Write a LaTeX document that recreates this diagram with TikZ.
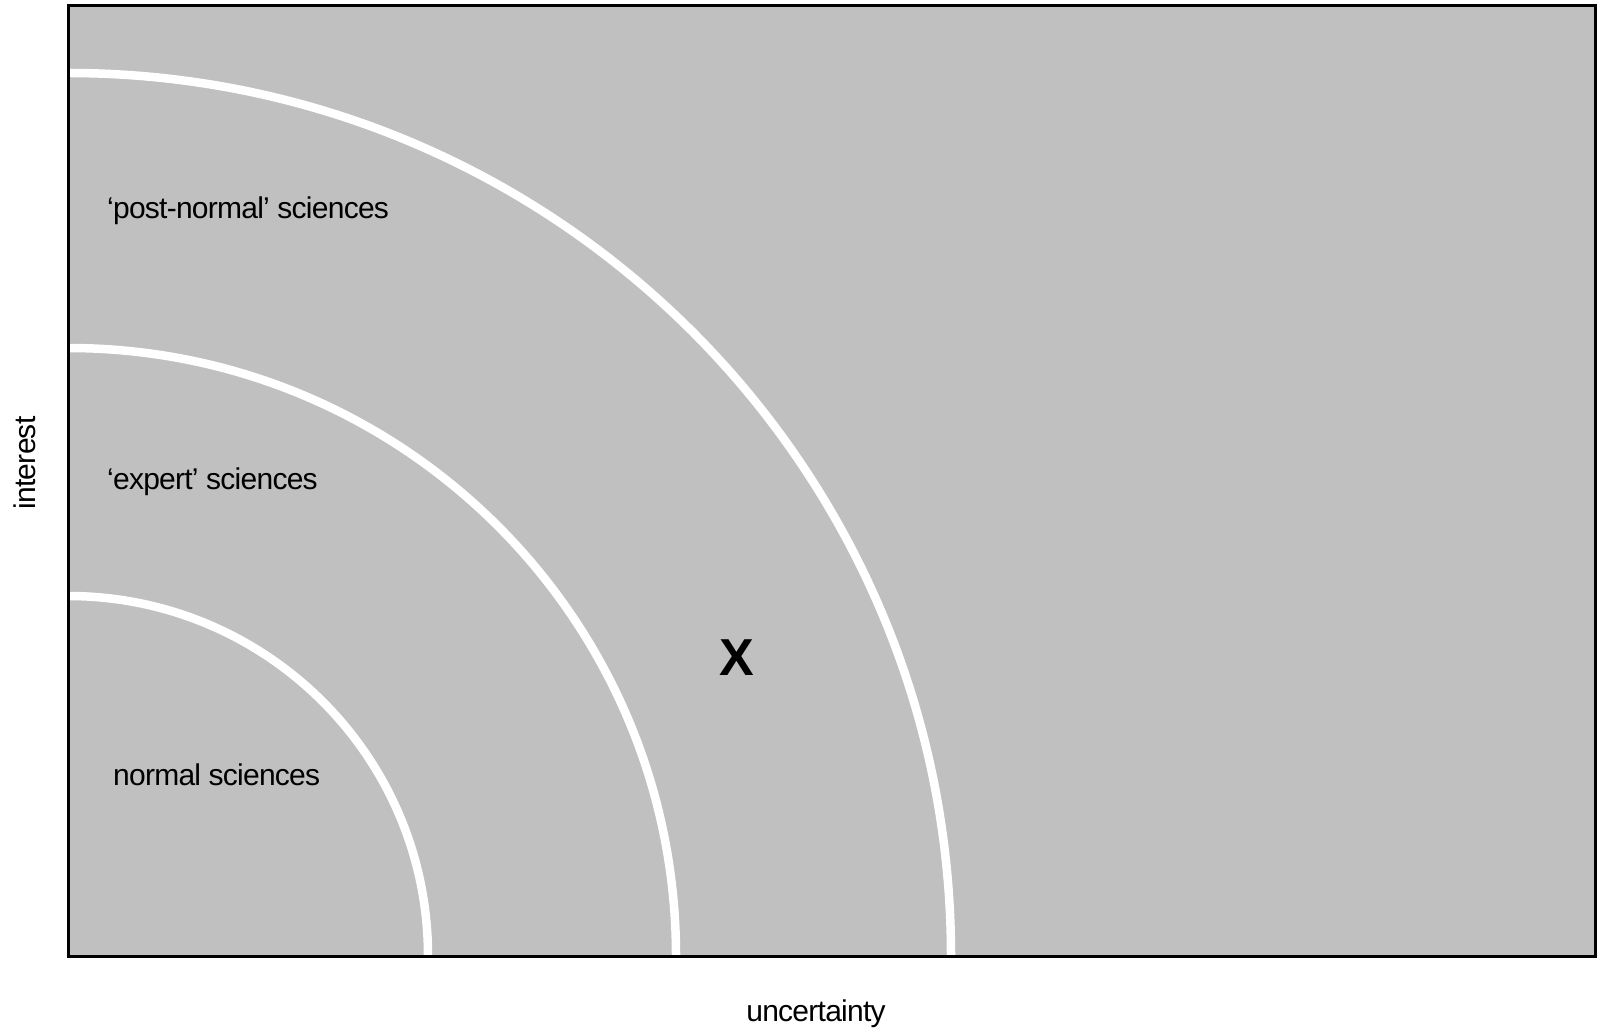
\documentclass[tikz,border=0pt]{standalone}
\usepackage{fontspec}
\setmainfont{Liberation Sans}[LetterSpace=-2.5]
\definecolor{panelgray}{HTML}{C0C0C0}
\begin{document}
\begin{tikzpicture}[x=1pt,y=1pt,
  zone/.style={draw=white,line width=8.5pt},
  lbl/.style={inner sep=0pt,font=\fontsize{30}{34}\selectfont},
  axis/.style={inner sep=0pt,font=\fontsize{30}{34}\selectfont}]
\useasboundingbox (0,0) rectangle (1597,1031);
\fill[panelgray] (68,75) rectangle (1595,1025);
\coordinate (c) at (68,75);
\draw[zone] (68,435) arc[start angle=90,end angle=0,radius=360];
\draw[zone] (68,683) arc[start angle=90,end angle=0,radius=608];
\draw[zone] (68,958) arc[start angle=90,end angle=0,radius=883];
\draw[line width=3pt] (68,75) rectangle (1595,1025);
\node[lbl,anchor=west] (pn) at (107,820) {‘post-normal’ sciences};
\node[lbl,anchor=west] (ex) at (107,549) {‘expert’ sciences};
\node[lbl,anchor=west] (ns) at (113,256) {normal sciences};
\node[inner sep=0pt,font=\fontsize{52}{56}\selectfont\bfseries] (x) at (737,373) {X};
\node[axis] (unc) at (816,17) {uncertainty};
\node[axis,rotate=90] (int) at (25,568) {interest};
\end{tikzpicture}
\end{document}
